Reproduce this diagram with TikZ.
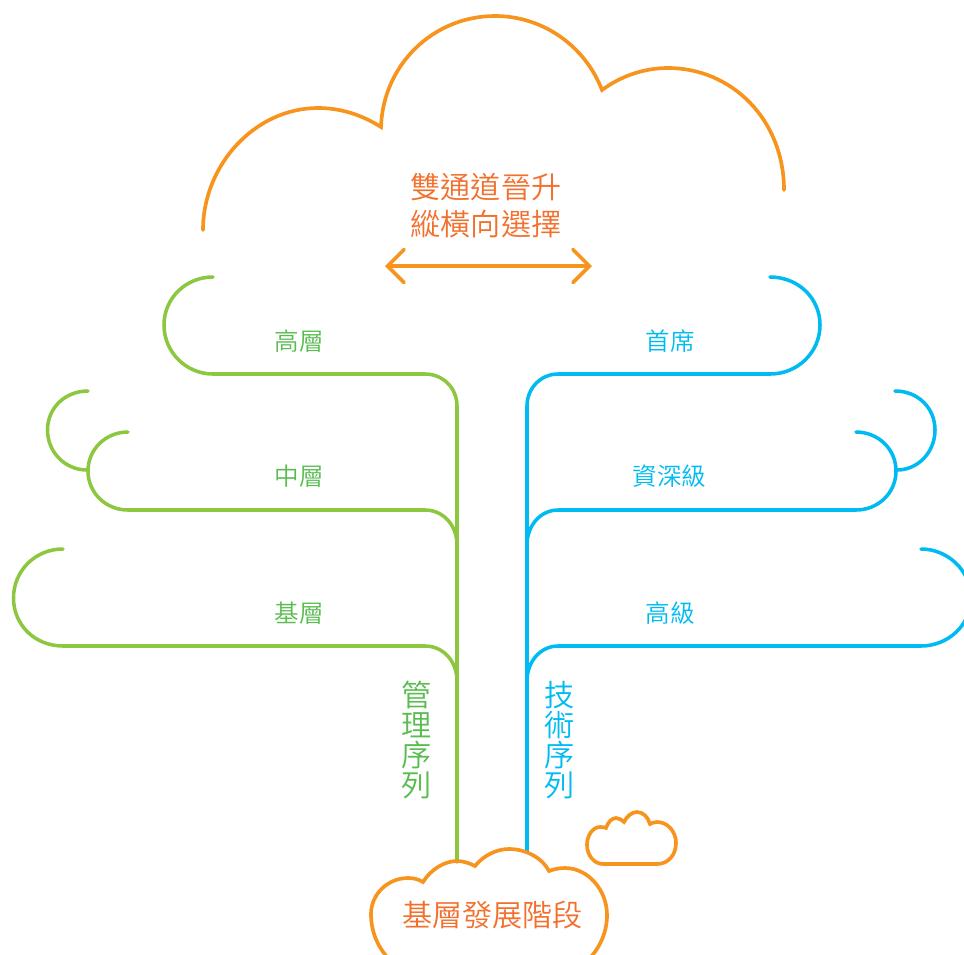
\documentclass[tikz,border=0pt]{standalone}
\usepackage{fontspec}
\usetikzlibrary{arrows.meta}
\setmainfont{Noto Sans CJK TC DemiLight}
\definecolor{cloudor}{HTML}{F7941E}
\definecolor{textor}{HTML}{F2702E}
\definecolor{treegr}{HTML}{8DC63F}
\definecolor{textgr}{HTML}{58BC4F}
\definecolor{treebl}{HTML}{00BBF2}
\tikzset{
  cloudline/.style={draw=cloudor,line width=2.75pt,line cap=round,line join=miter,fill=none},
  greenline/.style={draw=treegr,line width=2.65pt,line cap=round},
  blueline/.style={draw=treebl,line width=2.65pt,line cap=round},
  smalllabel/.style={inner sep=0pt,font=\fontsize{18.4pt}{18.4pt}\selectfont},
  biglabel/.style={inner sep=0pt,align=center,font=\fontsize{22.6pt}{28pt}\selectfont},
  vertlabel/.style={inner sep=0pt,align=center,font=\fontsize{22.6pt}{22.5pt}\selectfont},
}
\begin{document}
\begin{tikzpicture}[x=0.75pt,y=-0.75pt]
\useasboundingbox (0,0) rectangle (964,954);
\clip (0,0) rectangle (964,954);
% top cloud
\draw[cloudline] (203,230) .. controls (203,165) and (255,108) .. (318,108)
  .. controls (341,108) and (362,115) .. (381,127)
  .. controls (383,65) and (433,16) .. (495,16)
  .. controls (543,16) and (585,46) .. (602,90)
  .. controls (621,76) and (644,68) .. (668,68)
  .. controls (732,68) and (784,120) .. (784,190);
% green tree
\draw[greenline] (213,277) .. controls (186,277) and (164,298) .. (164,325)
  .. controls (164,352) and (186,374) .. (213,374) -- (425,374)
  .. controls (443,374) and (457,388) .. (457,406) -- (457,862);
\draw[greenline] (128,432) .. controls (106,432) and (88,449) .. (88,471)
  .. controls (88,493) and (106,510) .. (128,510) -- (425,510)
  .. controls (443,510) and (457,525) .. (457,545);
\draw[greenline] (88,391) .. controls (65,391) and (47.5,408) .. (47.5,430)
  .. controls (47.5,452) and (65,470) .. (87,470);
\draw[greenline] (63,549) .. controls (35,549) and (13.5,571) .. (13.5,598)
  .. controls (13.5,625) and (35,646) .. (63,646) -- (425,646)
  .. controls (443,646) and (457,661) .. (457,681);
% blue tree
\draw[blueline] (770,277) .. controls (798,277) and (820,298) .. (820,325)
  .. controls (820,352) and (798,374) .. (770,374) -- (558,374)
  .. controls (541,374) and (527,388) .. (527,406) -- (527,852);
\draw[blueline] (856,432) .. controls (878,432) and (896,449) .. (896,471)
  .. controls (896,493) and (878,510) .. (856,510) -- (558,510)
  .. controls (541,510) and (527,525) .. (527,545);
\draw[blueline] (895,391) .. controls (918,391) and (935,408) .. (935,430)
  .. controls (935,452) and (918,470) .. (897,470);
\draw[blueline] (921,549) .. controls (948,549) and (971,571) .. (971,598)
  .. controls (971,625) and (948,646) .. (921,646) -- (558,646)
  .. controls (541,646) and (527,661) .. (527,681);
% bottom cloud
\draw[cloudline] (390,960) .. controls (378,948) and (371,932) .. (371,914)
  .. controls (371,894) and (388,878) .. (408,878)
  .. controls (413,878) and (418,879) .. (423,882)
  .. controls (431,869) and (445,861) .. (457,861)
  .. controls (463,861) and (469,863) .. (475,866)
  .. controls (483,856) and (496,849) .. (509,849)
  .. controls (527,849) and (543,859) .. (549,871)
  .. controls (554,869) and (560,868) .. (565,868)
  .. controls (588,868) and (607,890) .. (607,915)
  .. controls (607,932) and (600,948) .. (588,960);
% small cloud
\draw[cloudline] (603,864) .. controls (594,864) and (587,855) .. (587,845)
  .. controls (587,835) and (593,827) .. (600,827)
  .. controls (602,827) and (604,827) .. (606,828)
  .. controls (608,822) and (612,818) .. (616,818)
  .. controls (619,818) and (622,820) .. (624,822)
  .. controls (627,816) and (632,812) .. (637,812)
  .. controls (643,812) and (648,817) .. (650,824)
  .. controls (652,823) and (654,822) .. (657,822)
  .. controls (668,822) and (676,832) .. (676,843)
  .. controls (676,855) and (668,864) .. (657,864) -- cycle;
% arrow
\coordinate (arrowl) at (385,266);
\coordinate (arrowr) at (592,266);
\draw[draw=cloudor,line width=2.7pt,{Straight Barb[length=12.5pt,width=25pt,line cap=round]}-{Straight Barb[length=12.5pt,width=25pt,line cap=round]}] (arrowl) -- (arrowr);
% labels
\node[biglabel,text=textor] (title) at (486,205.5) {雙通道晉升\\縱橫向選擇};
\node[biglabel,text=textor] (base) at (492.5,915) {基層發展階段};
\node[smalllabel,text=textgr] (gh) at (299,341) {高層};
\node[smalllabel,text=textgr] (gm) at (299,476) {中層};
\node[smalllabel,text=textgr] (gb) at (299,613) {基層};
\node[smalllabel,text=treebl] (bh) at (670,341) {首席};
\node[smalllabel,text=treebl] (bm) at (669.5,476) {資深級};
\node[smalllabel,text=treebl] (bb) at (670,613) {高級};
\node[vertlabel,text=textgr] (gv) at (416.5,740) {管\\理\\序\\列};
\node[vertlabel,text=treebl] (bv) at (559.5,740) {技\\術\\序\\列};
\end{tikzpicture}
\end{document}
